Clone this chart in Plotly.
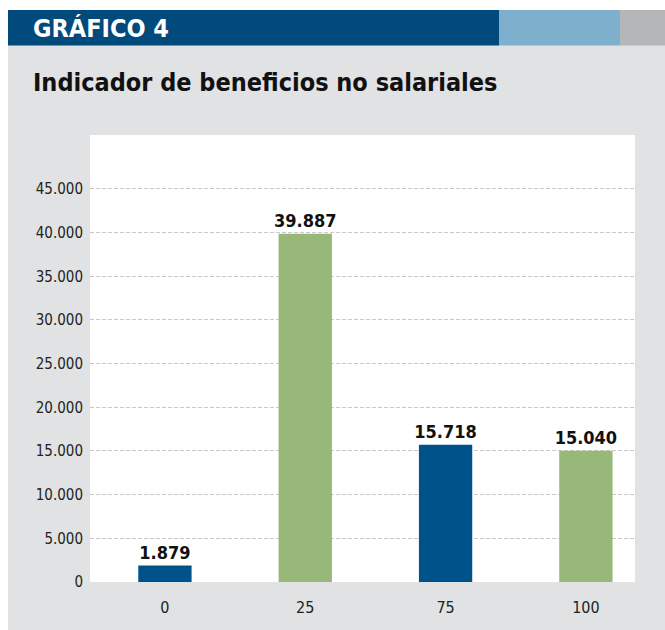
import plotly.graph_objects as go

categories = ["0", "25", "75", "100"]
values = [1879, 39887, 15718, 15040]
bar_colors = ["#00528a", "#97b878", "#00528a", "#97b878"]
y_ticks = [0, 5000, 10000, 15000, 20000, 25000, 30000, 35000, 40000, 45000]

W, H = 665, 630
L, R, T, B = 90, 635, 135, 582
PW, PH = R - L, B - T

FONT = "DejaVu Sans Condensed, Roboto, sans-serif"


def px(x):
    return (x - L) / PW


def py(y):
    return (B - y) / PH


positions = list(range(len(categories)))

fig = go.Figure()
fig.add_trace(go.Bar(
    x=positions,
    y=values,
    marker=dict(color=bar_colors, line=dict(width=0)),
    width=0.38,
    text=values,
    texttemplate="%{y:,d}",
    textposition="outside",
    constraintext="none",
    cliponaxis=False,
    textfont=dict(family=FONT, size=18, color="#111111", weight="bold"),
    hoverinfo="skip",
))

shapes = [
    dict(type="rect", xref="paper", yref="paper", x0=px(0), x1=px(8), y0=py(H), y1=py(0),
         fillcolor="white", line=dict(width=0), layer="below"),
    dict(type="rect", xref="paper", yref="paper", x0=px(0), x1=px(W), y0=py(10), y1=py(0),
         fillcolor="white", line=dict(width=0), layer="below"),
    dict(type="rect", xref="paper", yref="paper", x0=px(8), x1=px(499), y0=py(45.5), y1=py(10),
         fillcolor="#004a7c", line=dict(width=0), layer="below"),
    dict(type="rect", xref="paper", yref="paper", x0=px(499), x1=px(620), y0=py(45.5), y1=py(10),
         fillcolor="#7eafcc", line=dict(width=0), layer="below"),
    dict(type="rect", xref="paper", yref="paper", x0=px(620), x1=px(W), y0=py(45.5), y1=py(10),
         fillcolor="#b5b6b8", line=dict(width=0), layer="below"),
]

annotations = [
    dict(text="GRÁFICO 4", xref="paper", yref="paper", x=px(31), y=py(29),
         xanchor="left", yanchor="middle", showarrow=False,
         font=dict(family=FONT, size=25, color="white", weight="bold")),
    dict(text="Indicador de beneficios no salariales", xref="paper", yref="paper",
         x=px(31), y=py(82), xanchor="left", yanchor="middle", showarrow=False,
         font=dict(family=FONT, size=25, color="#111111", weight="bold")),
]

fig.update_layout(
    width=W, height=H,
    margin=dict(l=L, r=W - R, t=T, b=H - B, pad=0),
    paper_bgcolor="#e1e2e4",
    plot_bgcolor="white",
    separators=",.",
    showlegend=False,
    shapes=shapes,
    annotations=annotations,
    xaxis=dict(
        range=[-0.534, 3.35],
        tickvals=positions,
        ticktext=categories,
        showgrid=False,
        zeroline=False,
        showline=False,
        ticks="",
        ticklabelstandoff=14,
        tickfont=dict(family=FONT, size=16, color="#222222"),
        fixedrange=True,
    ),
    yaxis=dict(
        range=[0, 51180],
        tickvals=y_ticks,
        tickformat=",d",
        showgrid=True,
        gridcolor="#c8c8c8",
        gridwidth=1,
        griddash="4px,2px",
        zeroline=False,
        showline=False,
        ticks="",
        ticklabelstandoff=6,
        tickfont=dict(family=FONT, size=15, color="#222222"),
        fixedrange=True,
    ),
)

fig.write_html(
    "out.html",
    config={"displayModeBar": False},
    post_script="document.body.style.margin='0';document.body.style.overflow='hidden';",
)
